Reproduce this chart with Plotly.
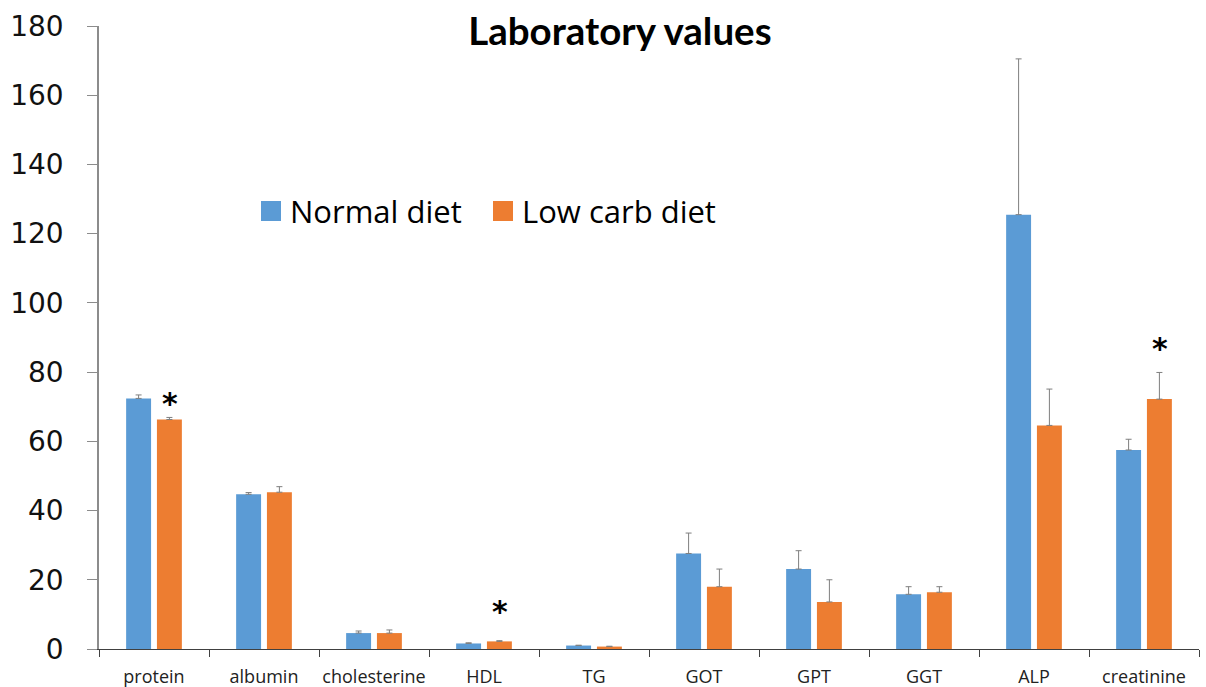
import plotly.graph_objects as go

# Laboratory parameters (means with upper error bars)
categories = ["protein", "albumin", "cholesterine", "HDL", "TG",
              "GOT", "GPT", "GGT", "ALP", "creatinine"]
normal_diet = [72.4, 44.7, 4.6, 1.6, 1.0, 27.6, 23.1, 15.8, 125.5, 57.5]
normal_err = [1.0, 0.5, 0.6, 0.2, 0.1, 5.9, 5.3, 2.2, 45.0, 3.1]
lowcarb_diet = [66.3, 45.3, 4.6, 2.2, 0.7, 18.0, 13.6, 16.4, 64.6, 72.2]
lowcarb_err = [0.6, 1.6, 0.9, 0.2, 0.1, 5.1, 6.4, 1.6, 10.5, 7.7]

# significance markers above the low carb bars
star_categories = ["protein", "HDL", "creatinine"]
star_heights = [72.5, 12.3, 88.4]

y_ticks = [0, 20, 40, 60, 80, 100, 120, 140, 160, 180]

series_names = ["Normal diet", "Low carb diet"]
BLUE = "#5B9BD5"
ORANGE = "#ED7D31"
ERR_COLOR = "#7F7F7F"

fig = go.Figure()

for name, vals, errs, color in [
    (series_names[0], normal_diet, normal_err, BLUE),
    (series_names[1], lowcarb_diet, lowcarb_err, ORANGE),
]:
    fig.add_trace(go.Bar(
        x=categories, y=vals, name=name, showlegend=False,
        marker=dict(color=color, line=dict(width=0)),
        error_y=dict(type="data", array=errs, arrayminus=[0] * len(errs),
                     symmetric=False, color=ERR_COLOR, thickness=1, width=3),
    ))

for cat, h in zip(star_categories, star_heights):
    fig.add_annotation(
        x=cat, y=h, xref="x", yref="y", text="<b>*</b>", showarrow=False,
        xshift=15.5, yanchor="middle", yshift=-5,
        font=dict(family="DejaVu Sans", size=30, color="#000000"),
    )

# legend drawn as large square swatches with labels (pixel placement)
W, H = 1206, 687
L, R, T, B = 99, 7, 26, 38
pw, ph = W - L - R, H - T - B


def px_x(px):
    return (px - L) / pw


def px_y(py):
    return (H - B - py) / ph


legend_items = [(series_names[0], BLUE, 261), (series_names[1], ORANGE, 493)]
for label, color, x0 in legend_items:
    fig.add_shape(type="rect", xref="paper", yref="paper",
                  x0=px_x(x0), x1=px_x(x0 + 20), y0=px_y(221), y1=px_y(201),
                  fillcolor=color, line=dict(width=0))
    fig.add_annotation(x=px_x(x0 + 27), y=px_y(211), xref="paper", yref="paper",
                       text=label, showarrow=False, xanchor="left",
                       yanchor="middle",
                       font=dict(family="Open Sans", size=31, color="#000000"))

fig.update_layout(
    width=W, height=H,
    margin=dict(l=L, r=R, t=T, b=B, pad=0, autoexpand=False),
    paper_bgcolor="white", plot_bgcolor="white",
    barmode="group", bargap=0.44, bargroupgap=0.19,
    title=dict(text="<b>Laboratory values</b>", x=0.514, xanchor="center",
               y=1 - 32 / 687, yanchor="middle",
               font=dict(family="Lato", size=38.5, color="#000000")),
    showlegend=False,
)

fig.update_xaxes(
    type="category", showgrid=False, zeroline=False,
    showline=True, linecolor="#404040", linewidth=1,
    ticks="outside", tickson="boundaries", ticklen=7, tickcolor="#404040",
    ticklabelstandoff=11, tickangle=0, automargin=False,
    tickfont=dict(family="Open Sans", size=18, color="#222222"),
)
fig.update_yaxes(
    range=[0, 180], tickvals=y_ticks, showgrid=False, zeroline=False,
    showline=True, linecolor="#8C8C8C", linewidth=1.5,
    ticks="outside", ticklen=10, tickcolor="#8C8C8C",
    ticklabelstandoff=18, automargin=False,
    tickfont=dict(family="DejaVu Sans", size=28, color="#111111"),
)

fig.write_html("out.html")
